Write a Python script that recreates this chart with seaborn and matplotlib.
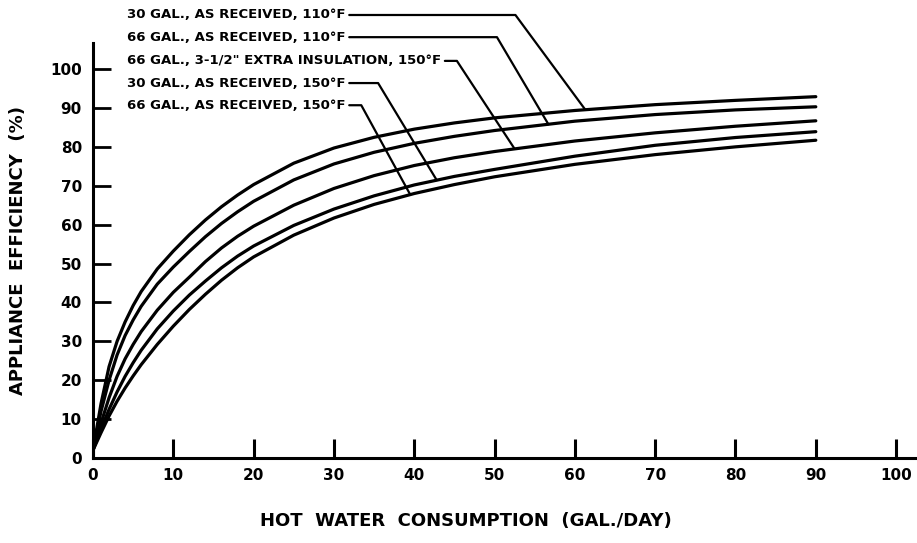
import numpy as np
import pandas as pd
import matplotlib
matplotlib.use("Agg")
import matplotlib.pyplot as plt
import seaborn as sns

# hot water consumption (gal/day)
consumption = [0, 1, 2, 3, 4, 5, 6, 8, 10, 12, 14, 16, 18, 20, 25, 30, 35, 40, 45, 50, 60, 70, 80, 90]

# appliance efficiency (%) for each tank
eff_30_110 = [2, 14, 23.5, 30, 35, 39.2, 42.8, 48.6, 53.2, 57.4, 61.2, 64.6, 67.6, 70.3, 75.8, 79.7, 82.45, 84.55, 86.15, 87.45, 89.35, 90.85, 91.95, 92.9]
eff_66_110 = [2, 12, 20, 26.5, 31.5, 35.5, 39, 44.7, 49.1, 53.1, 56.9, 60.3, 63.3, 66.0, 71.5, 75.6, 78.6, 80.9, 82.7, 84.2, 86.6, 88.3, 89.5, 90.3]
eff_66_ins = [2, 9, 15.5, 21, 25.5, 29.2, 32.5, 38, 42.6, 46.5, 50.5, 54.0, 57.0, 59.6, 65.0, 69.3, 72.6, 75.2, 77.2, 78.8, 81.5, 83.6, 85.3, 86.7]
eff_30_150 = [2, 7.5, 12.5, 17, 21, 24.5, 27.7, 33.2, 37.8, 41.9, 45.5, 48.9, 51.9, 54.5, 59.8, 64.0, 67.4, 70.2, 72.4, 74.2, 77.6, 80.4, 82.4, 83.9]
eff_66_150 = [2, 6.5, 10.8, 14.6, 18, 21.1, 24, 29.2, 33.9, 38.2, 42.1, 45.7, 48.9, 51.7, 57.3, 61.7, 65.2, 68.0, 70.3, 72.3, 75.5, 78.0, 80.0, 81.7]

labels = [
    "30 GAL., AS RECEIVED, 110°F",
    "66 GAL., AS RECEIVED, 110°F",
    '66 GAL., 3-1/2" EXTRA INSULATION, 150°F',
    "30 GAL., AS RECEIVED, 150°F",
    "66 GAL., AS RECEIVED, 150°F",
]
series = [eff_30_110, eff_66_110, eff_66_ins, eff_30_150, eff_66_150]

df = pd.concat(
    [pd.DataFrame({"x": consumption, "y": s, "curve": lab}) for lab, s in zip(labels, series)],
    ignore_index=True,
)

sns.set_style("ticks")
plt.rcParams["font.family"] = ["DejaVu Sans"]
plt.rcParams["font.weight"] = "bold"
for key in ["text.color", "axes.labelcolor", "xtick.color", "ytick.color", "axes.edgecolor"]:
    plt.rcParams[key] = "black"

fig = plt.figure(figsize=(9.17, 5.43), dpi=100)
ax = fig.add_axes([93 / 917, 85 / 543, 824 / 917, 415 / 543])

sns.lineplot(data=df, x="x", y="y", units="curve", estimator=None,
             color="black", linewidth=2.3, ax=ax, legend=False)

ax.set_xlim(0, 102.6)
ax.set_ylim(0, 106.7)
ax.set_xticks(range(0, 101, 10))
ax.set_yticks(range(0, 101, 10))
ax.tick_params(axis="x", direction="in", length=14, width=2.2, pad=7, labelsize=11)
ax.tick_params(axis="y", direction="in", length=13, width=2.0, pad=8, labelsize=11)
for lab in ax.get_xticklabels() + ax.get_yticklabels():
    lab.set_fontweight("bold")
sns.despine(ax=ax)
for sp in ["left", "bottom"]:
    ax.spines[sp].set_linewidth(2.2)

ax.set_xlabel("HOT  WATER  CONSUMPTION  (GAL./DAY)", fontsize=13, fontweight="bold")
ax.set_ylabel("APPLIANCE  EFFICIENCY  (%)", fontsize=13, fontweight="bold")
ax.xaxis.set_label_coords(0.453, -0.13)
ax.yaxis.set_label_coords(-0.08, 0.5)

# leader labels: text y, corner x, tip x on the curve
text_y = [113.9, 108.2, 102.1, 96.4, 90.7]
corner_x = [52.6, 50.3, 45.3, 35.5, 32.3]
tip_x = [61.3, 56.7, 52.5, 42.8, 39.5]
texts = []
for lab, ty in zip(labels, text_y):
    texts.append(ax.text(4.2, ty, lab, fontsize=9.5, fontweight="bold",
                         va="center", ha="left", clip_on=False))

fig.canvas.draw()
renderer = fig.canvas.get_renderer()
inv = ax.transData.inverted()
for t, s, ty, cx, tx in zip(texts, series, text_y, corner_x, tip_x):
    bb = t.get_window_extent(renderer)
    x0 = inv.transform((bb.x1 + 4, bb.y0))[0]
    tip_y = np.interp(tx, consumption, s)
    ax.plot([x0, max(cx, x0 + 1.5), tx], [ty, ty, tip_y], color="black",
            linewidth=1.6, clip_on=False)

fig.savefig("out.png", dpi=100)
